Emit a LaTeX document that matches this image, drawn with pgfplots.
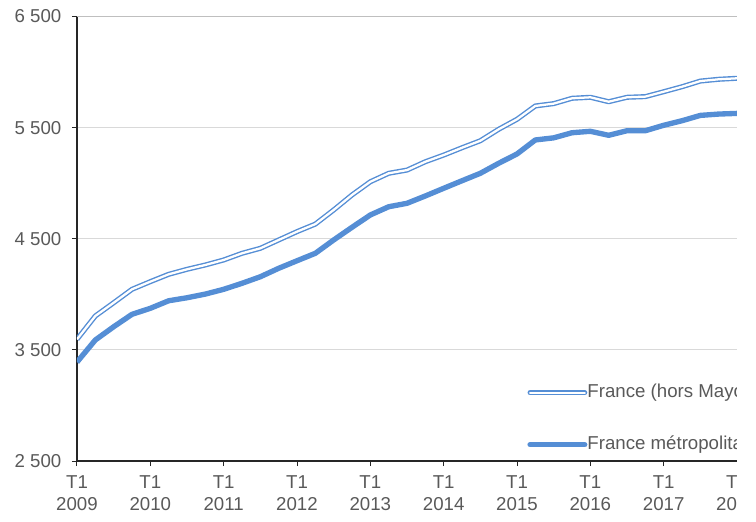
\documentclass[border=0pt]{standalone}
\usepackage{fontspec}
\setmainfont{Liberation Sans}
\usepackage{pgfplots}
\usepackage{pgfplotstable}
\pgfplotsset{compat=1.18}
\definecolor{lineblue}{HTML}{558ED5}
\definecolor{labelgray}{HTML}{595959}
\definecolor{gridgray}{HTML}{D9D9D9}
\definecolor{topgray}{HTML}{BFBFBF}
\definecolor{axisdark}{HTML}{262626}

% quarters from T1 2009 (q=0) to T1 2018 (q=36)
\pgfplotstableread{
q  hors  metro
0  3595  3390
1  3805  3589
2  3924  3708
3  4045  3820
4  4114  3874
5  4180  3942
6  4225  3969
7  4264  4002
8  4309  4045
9  4369  4099
10 4414  4158
11 4489  4234
12 4564  4302
13 4632  4369
14 4759  4489
15 4894  4603
16 5013  4714
17 5089  4788
18 5118  4819
19 5193  4885
20 5253  4954
21 5319  5022
22 5382  5089
23 5485  5179
24 5575  5263
25 5695  5389
26 5716  5408
27 5764  5454
28 5773  5467
29 5733  5431
30 5773  5472
31 5779  5472
32 5823  5521
33 5868  5562
34 5919  5610
35 5935  5622
36 5944  5628
}\datatable

\begin{document}
\begin{tikzpicture}
\begin{axis}[
  scale only axis, width=495pt, height=333.375pt,
  xmin=0, xmax=36, ymin=2500, ymax=6500,
  axis lines=left,
  axis line style={-, axisdark, line width=0.9pt},
  tick align=outside,
  major tick length=3.75pt,
  tick style={axisdark, line width=0.75pt},
  xtick={0,4,...,36},
  xticklabels={T1\\2009,T1\\2010,T1\\2011,T1\\2012,T1\\2013,T1\\2014,T1\\2015,T1\\2016,T1\\2017,T1\\2018},
  ytick={2500,3500,4500,5500,6500},
  yticklabels={2 500,3 500,4 500,5 500,6 500},
  ymajorgrids,
  grid style={gridgray, line width=0.75pt},
  ticklabel style={font=\fontsize{14}{17}\selectfont, text=labelgray},
  xticklabel style={align=center, yshift=-3.5pt},
  yticklabel style={xshift=-4.5pt},
  legend style={draw=none, fill=none, at={(0.682,0.095)}, anchor=west,
    inner sep=0pt, row sep=26pt,
    nodes={inner sep=0pt, text height=10pt, text depth=3pt,
      font=\fontsize{14}{16}\selectfont, text=labelgray}},
  legend cell align=left,
  /tikz/every even column/.append style={column sep=5.5pt},
]
  \addplot[lineblue, line width=1.05pt, double=white, double distance=1.7pt,
    line join=round,
    legend image code/.code={\draw[lineblue, line width=1.05pt, double=white,
      double distance=1.7pt, line cap=round] (0pt,0pt) -- (41pt,0pt);}]
    table[x=q, y=hors] {\datatable};
  \addlegendentry{France (hors Mayotte)}
  \addplot[lineblue, line width=4pt, line join=round,
    legend image code/.code={\draw[lineblue, line width=4pt,
      line cap=round] (0pt,0pt) -- (41pt,0pt);}]
    table[x=q, y=metro] {\datatable};
  \addlegendentry{France métropolitaine}
  \draw[topgray, line width=1.5pt] (rel axis cs:0,1) -- (rel axis cs:1,1);
  \coordinate (sw) at (rel axis cs:0,0);
  \coordinate (se) at (rel axis cs:1,0);
\end{axis}
% the reference is cut at T1 2018, with a white strip to its right
\fill[white] ([shift={(0pt,-60pt)}]se) rectangle ([shift={(60pt,400pt)}]se);
\pgfresetboundingbox
\useasboundingbox ([shift={(-57.75pt,-45pt)}]sw) rectangle ([shift={(509.25pt,345.75pt)}]sw);
\end{tikzpicture}
\end{document}
